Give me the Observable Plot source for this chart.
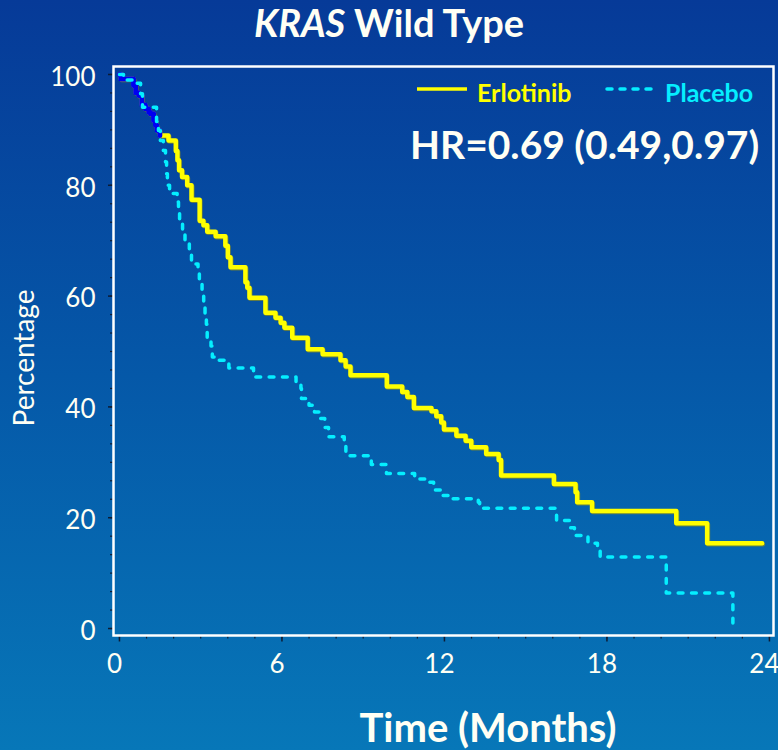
<!DOCTYPE html>
<html>
<head>
<meta charset="utf-8">
<script src="https://cdn.jsdelivr.net/npm/d3@7"></script>
<script src="https://cdn.jsdelivr.net/npm/@observablehq/plot@0.6"></script>
<style>
  html, body { margin: 0; padding: 0; }
  body {
    width: 778px; height: 750px; overflow: hidden; position: relative;
    background: linear-gradient(to bottom, #063a98 0%, #0558a8 50%, #0777b8 100%);
    font-family: Lato, "Open Sans", sans-serif;
  }
  #chart, #overlay { position: absolute; left: 0; top: 0; }
  #overlay { pointer-events: none; }
</style>
</head>
<body>
<div id="chart"></div>
<svg id="overlay" width="778" height="750"></svg>
<script>
// Kaplan–Meier steps: time in months and percentage still event-free
const erlotinibMonths = [0, 0.05, 0.52, 0.6, 0.71, 0.83, 0.96, 1.08, 1.14, 1.26, 1.33, 1.39, 1.49, 1.81, 2.08, 2.14, 2.2, 2.31, 2.5, 2.66, 2.96, 3.1, 3.24, 3.55, 3.91, 4.0, 4.1, 4.65, 4.72, 4.8, 5.39, 5.76, 5.95, 6.09, 6.38, 6.95, 7.5, 8.16, 8.35, 8.53, 9.87, 10.44, 10.63, 10.87, 11.52, 11.7, 11.88, 11.98, 12.44, 12.78, 12.99, 13.54, 14.0, 14.09, 16.04, 16.84, 16.9, 17.45, 20.56, 21.7, 23.73];
const erlotinibPct = [100, 99.2, 98.0, 96.7, 96.2, 94.5, 93.8, 93.2, 92.9, 91.7, 90.8, 89.9, 89.0, 88.1, 86.2, 84.5, 82.7, 81.5, 80.0, 77.4, 73.6, 72.8, 71.6, 70.8, 69.1, 67.0, 65.2, 62.5, 61.5, 59.7, 57.0, 56.1, 55.2, 54.3, 52.5, 50.4, 49.5, 48.4, 47.3, 45.7, 43.7, 42.7, 41.8, 39.8, 39.2, 38.3, 37.2, 35.9, 34.8, 33.9, 32.7, 31.5, 30.4, 27.6, 26.1, 24.6, 22.8, 21.2, 19.0, 15.4, 15.4];

const placeboMonths = [0, 0.15, 0.5, 0.78, 0.85, 1.37, 1.44, 1.51, 1.62, 1.70, 1.74, 1.77, 1.85, 2.13, 2.18, 2.22, 2.33, 2.42, 2.58, 2.66, 2.9, 2.95, 3.05, 3.11, 3.16, 3.21, 3.24, 3.38, 3.43, 3.5, 4.04, 4.95, 6.52, 6.7, 6.72, 7.0, 7.2, 7.4, 7.58, 7.72, 8.3, 8.36, 9.2, 9.3, 9.86, 10.9, 11.4, 11.6, 11.9, 12.3, 13.25, 13.3, 16.14, 16.65, 16.8, 17.3, 17.65, 17.75, 20.19, 22.65];
const placeboPct = [100, 99.0, 98.4, 96.5, 94.1, 91.5, 89.9, 88.1, 86.3, 84.2, 82.1, 80.0, 78.5, 77.0, 75.1, 73.0, 71.4, 69.6, 67.8, 65.8, 64.7, 62.5, 60.9, 58.9, 56.8, 54.9, 52.5, 51.0, 49.0, 48.4, 47.0, 45.4, 44.5, 43.3, 41.5, 40.3, 39.1, 37.9, 36.3, 34.6, 32.9, 31.2, 30.3, 29.6, 28.0, 27.0, 26.4, 25.0, 24.0, 23.4, 22.8, 21.7, 19.5, 18.2, 16.8, 15.4, 14.4, 12.9, 6.4, 0];

// Axis ticks and labels
const xLabelTicks = [0, 6, 12, 18, 24];
const xMinorTicks = d3.range(0, 25, 1);
const yLabelTicks = [0, 20, 40, 60, 80, 100];
const yMinorTicks = d3.range(0, 31).map(i => i * 10 / 3);

// Texts
const titleItalic = "KRAS";
const titleRest = " Wild Type";
const seriesNames = ["Erlotinib", "Placebo"];
const seriesColors = ["#ffff00", "#05eeff"];
const hrText = "HR=0.69 (0.49,0.97)";
const xTitle = "Time (Months)";
const yTitle = "Percentage";

const textColor = "#fffff4";
const tickColor = "#0d1b33";

const erlotinib = erlotinibMonths.map((m, i) => ({month: m, pct: erlotinibPct[i]}));
const placebo = placeboMonths.map((m, i) => ({month: m, pct: placeboPct[i]}));
const earlyOverlap = erlotinib.filter(d => d.month <= 1.5);

const chart = Plot.plot({
  width: 778,
  height: 750,
  marginLeft: 113,
  marginRight: 5,
  marginTop: 66,
  marginBottom: 115,
  style: {background: "transparent", fontFamily: "Lato, 'Open Sans', sans-serif", overflow: "visible"},
  x: {domain: [-0.22, 24.15]},
  y: {domain: [-1.26, 101.44]},
  marks: [
    // tick marks
    Plot.axisX({ticks: xMinorTicks, tickSize: 3.5, tickFormat: () => "", stroke: tickColor, strokeWidth: 1.2, label: null}),
    Plot.axisX({ticks: xLabelTicks, tickSize: 6.5, tickFormat: () => "", stroke: tickColor, strokeWidth: 1.5, label: null}),
    Plot.axisY({ticks: yMinorTicks, tickSize: 3, tickFormat: () => "", stroke: tickColor, strokeWidth: 1.2, label: null}),
    Plot.axisY({ticks: yLabelTicks, tickSize: 5, tickFormat: () => "", stroke: tickColor, strokeWidth: 1.5, label: null}),
    // tick labels
    Plot.axisX({ticks: xLabelTicks, tickSize: 0, tickPadding: 19, fontSize: 26, fill: textColor, dx: -5, label: null}),
    Plot.axisY({ticks: yLabelTicks, tickSize: 0, tickPadding: 18, fontSize: 26, fill: textColor, dy: 3, label: null}),
    // survival curves
    Plot.line(erlotinib, {x: "month", y: "pct", curve: "step-after", stroke: "#8f8f18", strokeOpacity: 0.7, strokeWidth: 4.5, dx: 0.8, dy: 1}),
    Plot.line(erlotinib, {x: "month", y: "pct", curve: "step-after", stroke: seriesColors[0], strokeWidth: 4.5}),
    Plot.line(earlyOverlap, {x: "month", y: "pct", curve: "step-after", stroke: "#0000f0", strokeWidth: 5}),
    Plot.line(placebo, {x: "month", y: "pct", curve: "step-after", stroke: seriesColors[1], strokeWidth: 3.5, strokeDasharray: "4.8,8.5", strokeLinecap: "round"}),
    Plot.frame({stroke: "white", strokeWidth: 2.5})
  ]
});
document.getElementById("chart").append(chart);

// Title, legend, hazard ratio and axis titles
const svg = d3.select("#overlay").attr("font-family", "Lato, 'Open Sans', sans-serif");

const title = svg.append("text")
  .attr("x", 389).attr("y", 37)
  .attr("text-anchor", "middle")
  .attr("font-size", 38).attr("font-weight", 700)
  .attr("fill", textColor);
title.append("tspan").attr("font-style", "italic").text(titleItalic);
title.append("tspan").text(titleRest);

// legend
svg.append("line").attr("x1", 417).attr("x2", 467).attr("y1", 89).attr("y2", 89)
  .attr("stroke", seriesColors[0]).attr("stroke-width", 3.5);
svg.append("text").attr("x", 477).attr("y", 102)
  .attr("font-size", 25).attr("font-weight", 700).attr("fill", seriesColors[0])
  .text(seriesNames[0]);
svg.append("line").attr("x1", 607).attr("x2", 653).attr("y1", 89).attr("y2", 89)
  .attr("stroke", seriesColors[1]).attr("stroke-width", 3.5)
  .attr("stroke-dasharray", "5,8").attr("stroke-linecap", "round");
svg.append("text").attr("x", 665).attr("y", 102)
  .attr("font-size", 25).attr("font-weight", 700).attr("fill", seriesColors[1])
  .text(seriesNames[1]);

svg.append("text").attr("x", 410).attr("y", 159)
  .attr("font-size", 39).attr("font-weight", 700).attr("fill", textColor)
  .text(hrText);

svg.append("text").attr("x", 488).attr("y", 742)
  .attr("text-anchor", "middle")
  .attr("font-size", 40).attr("font-weight", 700).attr("fill", textColor)
  .text(xTitle);

svg.append("text")
  .attr("transform", "translate(34,358) rotate(-90)")
  .attr("text-anchor", "middle")
  .attr("font-size", 28).attr("fill", textColor)
  .text(yTitle);
</script>
</body>
</html>
